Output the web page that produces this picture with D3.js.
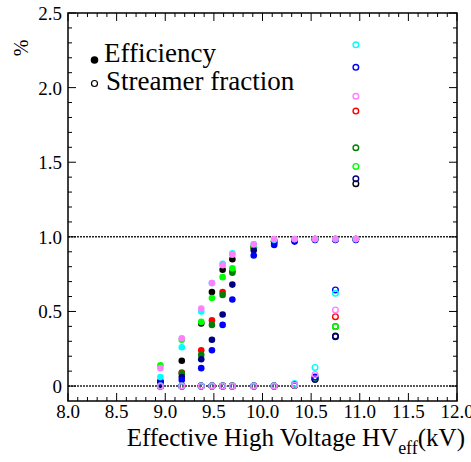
<!DOCTYPE html>
<html><head><meta charset="utf-8">
<script src="https://cdn.jsdelivr.net/npm/d3@7"></script>
</head><body style="margin:0">
<script>
const hv = [8.95, 9.17, 9.37, 9.48, 9.59, 9.69, 9.91, 10.12, 10.33, 10.54, 10.75, 10.96];
const seriesNames = ["black","red","darkgreen","lime","navy","blue","cyan","violet"];
const seriesColors = ["#000000","#ff0000","#008000","#00ff00","#000080","#0000ff","#00ffff","#ff80ff"];
const efficiency = [
  [0.00, 0.17, 0.42, 0.63, 0.78, 0.85, 0.93, 0.97, 0.98, 0.985, 0.985, 0.985],
  [0.03, 0.09, 0.24, 0.44, 0.63, 0.77, 0.93, 0.97, 0.98, 0.985, 0.985, 0.985],
  [0.03, 0.085, 0.21, 0.41, 0.61, 0.76, 0.93, 0.97, 0.98, 0.985, 0.985, 0.985],
  [0.14, 0.31, 0.43, 0.59, 0.73, 0.79, 0.93, 0.97, 0.98, 0.985, 0.985, 0.985],
  [0.03, 0.06, 0.18, 0.31, 0.48, 0.68, 0.91, 0.955, 0.975, 0.98, 0.98, 0.98],
  [0.02, 0.04, 0.12, 0.24, 0.41, 0.58, 0.875, 0.945, 0.968, 0.98, 0.98, 0.98],
  [0.06, 0.26, 0.50, 0.69, 0.82, 0.89, 0.95, 0.98, 0.985, 0.985, 0.985, 0.985],
  [0.12, 0.32, 0.52, 0.69, 0.81, 0.88, 0.95, 0.985, 0.985, 0.985, 0.985, 0.985]
];
const streamer = [
  [0, 0, 0, 0, 0, 0, 0, 0, 0.005, 0.045, 0.335, 1.356],
  [0, 0, 0, 0, 0, 0, 0, 0, 0.005, 0.05, 0.465, 1.843],
  [0, 0, 0, 0, 0, 0, 0, 0, 0.005, 0.05, 0.40, 1.597],
  [0, 0, 0, 0, 0, 0, 0, 0, 0.005, 0.05, 0.398, 1.472],
  [0, 0, 0, 0, 0, 0, 0, 0, 0.005, 0.045, 0.331, 1.389],
  [0, 0, 0, 0, 0, 0, 0, 0, 0.01, 0.06, 0.644, 2.136],
  [0, 0, 0, 0, 0, 0, 0, 0, 0.018, 0.125, 0.622, 2.287],
  [0, 0, 0, 0, 0, 0, 0, 0, 0.005, 0.078, 0.51, 1.942]
];
const xTicks = [8.0, 8.5, 9.0, 9.5, 10.0, 10.5, 11.0, 11.5, 12.0];
const yTicks = [0, 0.5, 1.0, 1.5, 2.0, 2.5];
const refLines = [0, 1];

const FONT = '"Times New Roman", "Liberation Serif", Tinos, serif';
const W = 471, H = 462;
const L = 68, R = 457, T = 13, B = 401;
const svg = d3.select("body").append("svg").attr("width", W).attr("height", H)
  .style("display", "block").attr("font-family", FONT).style("font-family", FONT);
const x = d3.scaleLinear().domain([8, 12]).range([L, R]);
const y = d3.scaleLinear().domain([-0.1, 2.5]).range([B, T]);
const txt = (sel) => sel.append("text").attr("font-family", FONT).style("font-family", FONT).attr("fill", "#000");

// reference lines
svg.selectAll("line.ref").data(refLines).enter().append("line")
  .attr("x1", L).attr("x2", R).attr("y1", d => y(d)).attr("y2", d => y(d))
  .attr("stroke", "#222").attr("stroke-width", 1.5).attr("stroke-dasharray", "2,1");

// ticks
const xMinor = d3.range(80, 121).map(d => d / 10);
const yMinor = d3.range(0, 26).map(d => d / 10);
const isMajor = v => Math.abs(v * 2 - Math.round(v * 2)) < 1e-6;
const tk = svg.append("g").attr("stroke", "#000").attr("stroke-width", 1);
xMinor.forEach(v => {
  const len = isMajor(v) ? 8 : 4;
  tk.append("line").attr("x1", x(v)).attr("x2", x(v)).attr("y1", B).attr("y2", B - len);
  tk.append("line").attr("x1", x(v)).attr("x2", x(v)).attr("y1", T).attr("y2", T + len);
});
yMinor.forEach(v => {
  const len = isMajor(v) ? 8 : 4;
  tk.append("line").attr("y1", y(v)).attr("y2", y(v)).attr("x1", L).attr("x2", L + len);
  tk.append("line").attr("y1", y(v)).attr("y2", y(v)).attr("x1", R).attr("x2", R - len);
});

// frame
svg.append("rect").attr("x", L).attr("y", T).attr("width", R - L).attr("height", B - T)
  .attr("fill", "none").attr("stroke", "#000").attr("stroke-width", 1.5);

// tick labels
xTicks.forEach(d => txt(svg).attr("x", x(d)).attr("y", 418).attr("text-anchor", "middle")
  .attr("font-size", 19).text(d.toFixed(1)));
yTicks.forEach(d => txt(svg).attr("x", 62).attr("y", y(d) + 7).attr("text-anchor", "end")
  .attr("font-size", 19).text(d === 0 ? "0" : d.toFixed(1)));

// axis titles
const xt = txt(svg).attr("x", 465).attr("y", 446).attr("text-anchor", "end").attr("font-size", 25);
xt.append("tspan").text("Effective High Voltage HV");
xt.append("tspan").attr("dy", 8).attr("font-size", 18).text("eff");
xt.append("tspan").attr("dy", -8).text("(kV)");
txt(svg).attr("transform", "translate(28,48) rotate(-90)")
  .attr("text-anchor", "middle").attr("font-size", 20).text("%");

// data
const pts = (arr) => arr.map((vals, s) => vals.map((v, i) => ({x: hv[i], y: v, c: seriesColors[s]}))).flat();
svg.append("g").selectAll("circle").data(pts(efficiency)).enter().append("circle")
  .attr("cx", d => x(d.x)).attr("cy", d => y(d.y)).attr("r", 3.3).attr("fill", d => d.c);
svg.append("g").selectAll("circle").data(pts(streamer)).enter().append("circle")
  .attr("cx", d => x(d.x)).attr("cy", d => y(d.y)).attr("r", 2.8).attr("fill", "none")
  .attr("stroke", d => d.c).attr("stroke-width", 1.4);

// legend
svg.append("circle").attr("cx", 94.5).attr("cy", 60).attr("r", 3.8).attr("fill", "#000");
svg.append("circle").attr("cx", 94.5).attr("cy", 83.5).attr("r", 3).attr("fill", "none").attr("stroke", "#000").attr("stroke-width", 1.2);
txt(svg).attr("x", 104).attr("y", 62).attr("font-size", 27).text("Efficiency");
txt(svg).attr("x", 106).attr("y", 90).attr("font-size", 27).text("Streamer fraction");
</script></body></html>
